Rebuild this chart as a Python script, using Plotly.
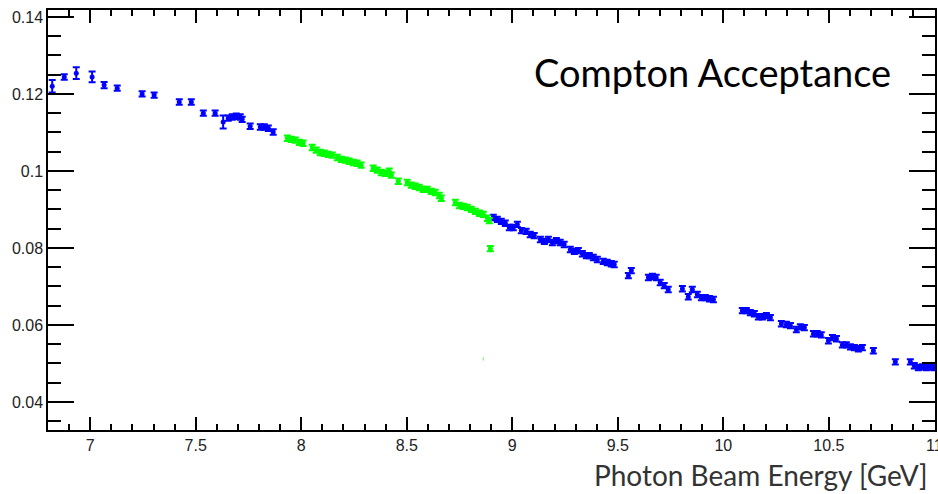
import plotly.graph_objects as go

# Blue series (outside the green band)
blue_x = [6.820, 6.877, 6.934, 7.009, 7.066, 7.128, 7.246, 7.303, 7.422, 7.479,
          7.536, 7.592, 7.630, 7.654, 7.673, 7.692, 7.711, 7.720, 7.758, 7.806,
          7.825, 7.844, 7.867,
          8.910, 8.929, 8.948, 8.967, 8.986, 9.005, 9.024, 9.043, 9.066, 9.085,
          9.104, 9.133, 9.152, 9.171, 9.190, 9.209, 9.227, 9.246, 9.275, 9.294,
          9.313, 9.332, 9.351, 9.365, 9.384, 9.403, 9.431, 9.450, 9.469, 9.483,
          9.550, 9.564, 9.645, 9.664, 9.682, 9.701, 9.720, 9.739, 9.806, 9.834,
          9.853, 9.877, 9.896, 9.915, 9.934, 9.953,
          10.090, 10.109, 10.128, 10.147, 10.166, 10.185, 10.204, 10.223, 10.275,
          10.299, 10.318, 10.346, 10.365, 10.384, 10.427, 10.445, 10.464, 10.498,
          10.517, 10.536, 10.564, 10.583, 10.602, 10.621, 10.640, 10.659, 10.711,
          10.815, 10.886, 10.905, 10.924, 10.943, 10.962, 10.981, 10.998]
blue_y = [0.1220, 0.1244, 0.1254, 0.1244, 0.1223, 0.1215, 0.1200, 0.1197, 0.1179, 0.1179,
          0.1150, 0.1150, 0.1127, 0.1137, 0.1140, 0.1142, 0.1140, 0.1134, 0.1116, 0.1114,
          0.1114, 0.1111, 0.1101,
          0.0879, 0.0874, 0.0869, 0.0864, 0.0853, 0.0853, 0.0861, 0.0845, 0.0843, 0.0835,
          0.0832, 0.0822, 0.0817, 0.0822, 0.0814, 0.0819, 0.0814, 0.0809, 0.0796, 0.0791,
          0.0793, 0.0785, 0.0780, 0.0780, 0.0775, 0.0770, 0.0765, 0.0762, 0.0759, 0.0757,
          0.0728, 0.0741, 0.0723, 0.0726, 0.0723, 0.0710, 0.0702, 0.0692, 0.0694, 0.0673,
          0.0692, 0.0679, 0.0671, 0.0671, 0.0668, 0.0666,
          0.0637, 0.0637, 0.0632, 0.0629, 0.0621, 0.0621, 0.0624, 0.0619, 0.0603,
          0.0601, 0.0598, 0.0588, 0.0595, 0.0593, 0.0577, 0.0577, 0.0574, 0.0559,
          0.0567, 0.0564, 0.0548, 0.0548, 0.0543, 0.0541, 0.0538, 0.0541, 0.0533,
          0.0504, 0.0504, 0.0494, 0.0489, 0.0491, 0.0489, 0.0491, 0.0489]
blue_err = [0.0016, 0.0007, 0.0015, 0.0014, 0.0008, 0.0007, 0.0007, 0.0007, 0.0007, 0.0007,
            0.0007, 0.0007, 0.0017] + [0.0007] * (len(blue_x) - 13)

# Green series (middle energy band)
green_x = [7.934, 7.953, 7.972, 7.991, 8.009, 8.052, 8.071, 8.090, 8.109, 8.128,
           8.147, 8.171, 8.190, 8.209, 8.227, 8.246, 8.265, 8.284, 8.341, 8.360,
           8.379, 8.398, 8.417, 8.427, 8.460, 8.502, 8.521, 8.540, 8.559, 8.578,
           8.597, 8.616, 8.635, 8.654, 8.664, 8.730, 8.749, 8.768, 8.787, 8.806,
           8.825, 8.844, 8.863, 8.882, 8.891, 8.896]
green_y = [0.1085, 0.1082, 0.1080, 0.1074, 0.1072, 0.1061, 0.1054, 0.1048, 0.1046, 0.1043,
           0.1041, 0.1035, 0.1030, 0.1028, 0.1025, 0.1022, 0.1020, 0.1015, 0.1007, 0.1002,
           0.0996, 0.0994, 0.0999, 0.0989, 0.0973, 0.0970, 0.0963, 0.0960, 0.0957, 0.0952,
           0.0952, 0.0947, 0.0944, 0.0936, 0.0929, 0.0918, 0.0910, 0.0908, 0.0905, 0.0900,
           0.0895, 0.0890, 0.0887, 0.0877, 0.0871, 0.0798]
green_err = [0.0007] * len(green_x)

# Stray faint point
stray_x = [8.863]
stray_y = [0.0512]
stray_err = [0.0005]

fig = go.Figure()

def add_series(x, y, err, color, msize, thick, width, opacity=1.0):
    fig.add_trace(go.Scatter(
        x=x, y=y, mode="markers",
        marker=dict(color=color, size=msize, symbol="circle"),
        error_y=dict(type="data", array=err, visible=True, color=color,
                     thickness=thick, width=width),
        opacity=opacity, showlegend=False, hoverinfo="x+y"))

add_series(blue_x, blue_y, blue_err, "#0000ff", 5, 2, 3.5)
add_series(green_x, green_y, green_err, "#00ff00", 5, 2, 3.5)
add_series(stray_x, stray_y, stray_err, "#00ff00", 1.5, 1, 0, 0.5)

fig.update_layout(
    width=938, height=494,
    margin=dict(l=48, r=3, t=10, b=64, autoexpand=False),
    paper_bgcolor="white", plot_bgcolor="white",
    font=dict(family="Liberation Sans, Arial, sans-serif", size=16, color="#222"),
    xaxis=dict(range=[6.8, 11.003], tick0=7, dtick=0.5, ticks="inside", ticklen=13,
               tickwidth=1.5, tickcolor="black", showline=True, linecolor="black",
               linewidth=1.5, mirror="ticks", showgrid=False, zeroline=False,
               ticklabeloverflow="allow", automargin=False,
               tickfont=dict(size=16, color="#222"),
               minor=dict(dtick=0.1, tick0=7, ticks="inside", ticklen=6,
                          tickwidth=1.5, tickcolor="black", showgrid=False)),
    yaxis=dict(range=[0.0327, 0.1418], tick0=0.04, dtick=0.02, ticks="inside", ticklen=26,
               tickwidth=1.5, tickcolor="black", showline=True, linecolor="black",
               linewidth=1.5, mirror="ticks", showgrid=False, zeroline=False,
               automargin=False,
               tickfont=dict(size=16, color="#222"),
               minor=dict(dtick=0.005, tick0=0.04, ticks="inside", ticklen=13,
                          tickwidth=1.5, tickcolor="black", showgrid=False)),
    annotations=[
        dict(text="Compton Acceptance", xref="paper", yref="paper",
             x=0.9527, y=0.852, xanchor="right", yanchor="middle", showarrow=False,
             font=dict(family="Lato, Open Sans, sans-serif", size=38, color="black")),
        dict(text="Photon Beam Energy [GeV]", xref="paper", yref="paper",
             x=0.9944, y=-0.1524, xanchor="right", yanchor="bottom", showarrow=False,
             font=dict(family="Lato, Open Sans, sans-serif", size=28, color="#333")),
    ],
)

fig.write_html("out.html")
